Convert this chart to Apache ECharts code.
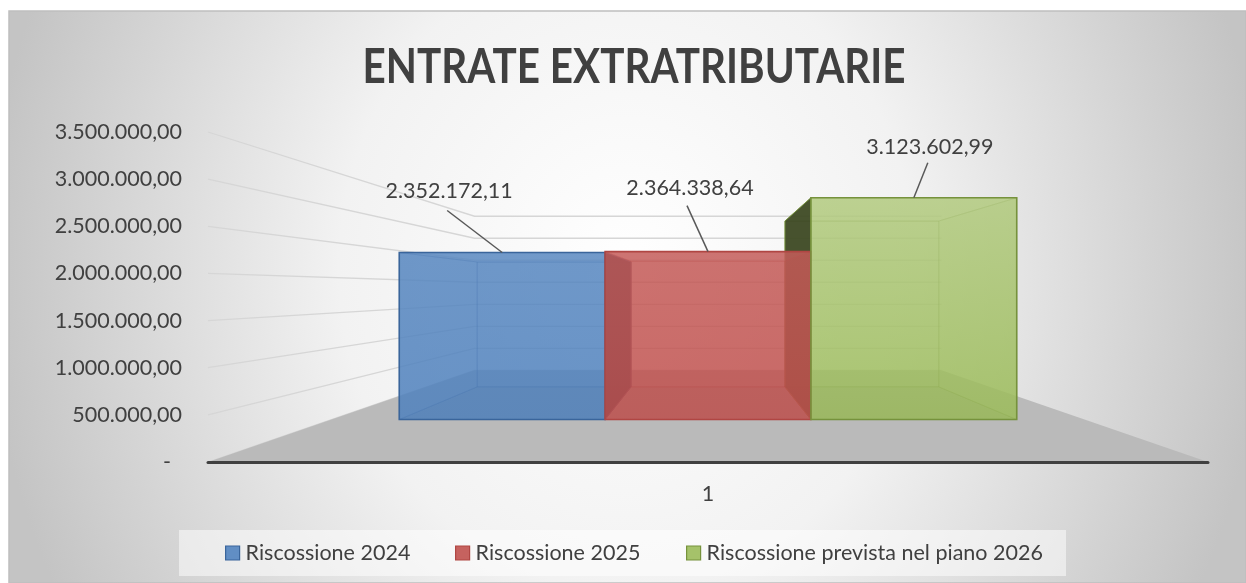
<!DOCTYPE html>
<html><head><meta charset="utf-8">
<script src="https://cdn.jsdelivr.net/npm/echarts@6/dist/echarts.min.js"></script>
<style>html,body{margin:0;padding:0;background:#fff;}#c{width:1246px;height:583px;}</style>
</head><body><div id="c"></div>
<script>
// ---------- data ----------
const categories = ['1'];
const seriesNames = ['Riscossione 2024', 'Riscossione 2025', 'Riscossione prevista nel piano 2026'];
const riscossione2024 = [2352172.11];
const riscossione2025 = [2364338.64];
const riscossione2026 = [3123602.99];
const yTicks = [0, 500000, 1000000, 1500000, 2000000, 2500000, 3000000, 3500000];
const titleText = 'ENTRATE EXTRATRIBUTARIE';

// ---------- styling / view ----------
const seriesValues = [riscossione2024, riscossione2025, riscossione2026];
const baseColors = ['#4f81bd', '#c0504d', '#9bbb59'];
const borderColors = ['#3a659b', '#b04643', '#76923c'];
const frontTint = [0.06, 0.08, 0.3];
// label centre dx,dy and leader end dx,dy relative to front-top-centre of bar
const labelOffsets = [[-53, -61, -55, -42], [-18, -64, -21, -46], [16, -51, 14, -35]];
const legendLefts = [225, 455, 686];
const VIEW = { eyeValue: 1824000, sWall: 0.467, sFront: 0.753, sBack: 0.563, groupFrac: 0.82 };
const FONT = 'Lato';
const TXT = '#404040';

function hexToRgb(h) { const n = parseInt(h.slice(1), 16); return [n >> 16 & 255, n >> 8 & 255, n & 255]; }
function rgba(h, a, f) {
  let [r, g, b] = hexToRgb(h);
  f = f || 0;
  if (f > 0) { r += (255 - r) * f; g += (255 - g) * f; b += (255 - b) * f; }
  else if (f < 0) { r *= 1 + f; g *= 1 + f; b *= 1 + f; }
  return 'rgba(' + Math.round(r) + ',' + Math.round(g) + ',' + Math.round(b) + ',' + a + ')';
}
function fmtIt(v) {
  const p = v.toFixed(2).split('.');
  return p[0].replace(/\B(?=(\d{3})+(?!\d))/g, '.') + ',' + p[1];
}
function viewPoint(api) {
  const vx = api.coord([0, 0])[0];
  const vy = api.coord([0, VIEW.eyeValue])[1];
  return { vx, vy, P: (x, y, s) => [vx + (x - vx) * s, vy + (y - vy) * s] };
}

function renderGrid(params, api) {
  const cs = params.coordSys;
  const y = api.coord([0, api.value(1)])[1];
  const { P } = viewPoint(api);
  const xl = cs.x, xr = cs.x + cs.width;
  return {
    type: 'polyline',
    shape: { points: [[xl, y], P(xl, y, VIEW.sWall), P(xr, y, VIEW.sWall)] },
    style: { stroke: '#d6d6d6', lineWidth: 1.3, fill: null }
  };
}
function renderFloor(params, api) {
  const cs = params.coordSys;
  const y = api.coord([0, api.value(1)])[1];
  const { P } = viewPoint(api);
  const xl = cs.x, xr = cs.x + cs.width;
  return {
    type: 'polygon',
    shape: { points: [[xl, y], [xr, y], P(xr, y, VIEW.sWall), P(xl, y, VIEW.sWall)] },
    style: { fill: '#bababa' }
  };
}
function makeBarRender(si) {
  return function (params, api) {
    const cat = api.value(0), v = api.value(1);
    const base = api.coord([cat, 0]);
    const band = api.size([1, 0])[0];
    const { vx, vy, P } = viewPoint(api);
    const barW = band * VIEW.groupFrac / 3;
    const x0 = base[0] - band * VIEW.groupFrac / 2 + si * barW, x1 = x0 + barW;
    const yB = base[1], yT = api.coord([cat, v])[1];
    const sF = VIEW.sFront, sB = VIEW.sBack;
    const c = baseColors[si], bc = borderColors[si];
    const A = 0.62;
    // painter's order: boxes farther from the eye (horizontally) first
    const rank = Math.round(Math.abs((x0 + x1) / 2 - vx) / barW);
    const zb = (5 - rank) * 3;
    const inner = (f) => ({ fill: rgba(c, A, f), stroke: rgba(bc, 0.3), lineWidth: 1 });
    const outer = { fill: rgba(c, 0.85, -0.68), stroke: rgba(bc, 0.9), lineWidth: 1 };
    const ch = [];
    const face = (pts, style, z2) => ch.push({ type: 'polygon', z2, shape: { points: pts }, style });
    // back
    face([P(x0, yT, sB), P(x1, yT, sB), P(x1, yB, sB), P(x0, yB, sB)], inner(0), zb);
    // bottom
    face([P(x0, yB, sF), P(x1, yB, sF), P(x1, yB, sB), P(x0, yB, sB)], inner(-0.08), zb + 1);
    // top
    const topOut = yT > vy;
    face([P(x0, yT, sF), P(x1, yT, sF), P(x1, yT, sB), P(x0, yT, sB)], topOut ? outer : inner(0.06), topOut ? zb + 2 : zb + 1);
    // left
    const leftOut = x0 > vx;
    face([P(x0, yT, sF), P(x0, yT, sB), P(x0, yB, sB), P(x0, yB, sF)], leftOut ? outer : inner(0), leftOut ? zb + 2 : zb + 1);
    // right
    const rightOut = x1 < vx;
    face([P(x1, yT, sF), P(x1, yT, sB), P(x1, yB, sB), P(x1, yB, sF)], rightOut ? outer : inner(0), rightOut ? zb + 2 : zb + 1);
    // front
    const f0 = P(x0, yT, sF), f1 = P(x1, yB, sF);
    face([f0, P(x1, yT, sF), f1, P(x0, yB, sF)], {
      fill: { type: 'linear', x: 0, y: 0, x2: 0, y2: 1, colorStops: [
        { offset: 0, color: rgba(c, A, frontTint[si]) }, { offset: 1, color: rgba(c, A, 0) }] },
      stroke: bc, lineWidth: 1.6
    }, 100);
    // label + leader
    const cx = (f0[0] + f1[0]) / 2, cy = f0[1];
    const o = labelOffsets[si];
    ch.push({ type: 'line', z2: 110, shape: { x1: cx, y1: cy, x2: cx + o[2], y2: cy + o[3] },
      style: { stroke: '#595959', lineWidth: 1.5 } });
    ch.push({ type: 'text', z2: 120, style: { text: fmtIt(v), x: cx + o[0], y: cy + o[1],
      align: 'center', verticalAlign: 'middle', fill: TXT, fontFamily: FONT, fontSize: 21.5 } });
    return { type: 'group', children: ch };
  };
}

// title scaling to mimic condensed Calibri
const mctx = document.createElement('canvas').getContext('2d');
mctx.font = 'bold 47px ' + FONT;
const titleScale = 543 / mctx.measureText(titleText).width;

const chart = echarts.init(document.getElementById('c'), null, { renderer: 'canvas' });
chart.setOption({
  animation: false,
  graphic: { elements: [
    { type: 'rect', x: 9, y: 11, scaleY: 572 / 512, z: -10, silent: true,
      shape: { x: 0, y: 0, width: 1237, height: 512 },
      style: { fill: { type: 'radial', x: 618, y: 230, r: 640, global: true, colorStops: [
        { offset: 0, color: '#ffffff' }, { offset: 0.45, color: '#f2f2f2' }, { offset: 1, color: '#c4c4c4' }] },
        stroke: '#bfbfbf', lineWidth: 1.5, strokeNoScale: true } },
    { type: 'rect', x: 179, y: 530, z: -9, silent: true, shape: { width: 887, height: 46 },
      style: { fill: 'rgba(255,255,255,0.5)' } },
    { type: 'text', x: 634, y: 68, z: 100, scaleX: titleScale, silent: true,
      style: { text: titleText, fontFamily: FONT, fontWeight: 'bold', fontSize: 47, fill: TXT,
        align: 'center', verticalAlign: 'middle' } }
  ] },
  grid: { left: 208, right: 38, top: 132, bottom: 121 },
  xAxis: {
    type: 'category', data: categories, z: 5,
    axisTick: { show: false }, splitLine: { show: false },
    axisLine: { lineStyle: { color: '#404040', width: 3, cap: 'round' } },
    axisLabel: { margin: 21, fontFamily: FONT, fontSize: 21.5, color: TXT }
  },
  yAxis: {
    type: 'value', min: yTicks[0], max: yTicks[yTicks.length - 1], interval: yTicks[1] - yTicks[0],
    axisLine: { show: false }, axisTick: { show: false }, splitLine: { show: false },
    axisLabel: { margin: 26, fontFamily: FONT, fontSize: 21.5, color: TXT,
      formatter: (v) => v === 0 ? '{z|-}' : fmtIt(v),
      rich: { z: { fontFamily: FONT, fontSize: 21.5, color: TXT, padding: [0, 11, 0, 0] } } }
  },
  legend: seriesNames.map((n, i) => ({
    data: [{ name: n, icon: 'rect', itemStyle: { color: rgba(baseColors[i], 1, 0.1), borderColor: borderColors[i], borderWidth: 1.2 } }],
    left: legendLefts[i], top: 542, itemWidth: 14, itemHeight: 14, itemGap: 0, padding: 0,
    selectedMode: false,
    textStyle: { fontFamily: FONT, fontSize: 21.5, color: TXT, padding: [0, 0, 0, 1] }
  })),
  series: [
    { type: 'custom', name: '_grid', coordinateSystem: 'cartesian2d', z: 1, silent: true,
      data: yTicks.map(t => [0, t]), encode: { x: 0, y: 1 }, renderItem: renderGrid },
    { type: 'custom', name: '_floor', coordinateSystem: 'cartesian2d', z: 1.5, silent: true,
      data: [[0, 0]], encode: { x: 0, y: 1 }, renderItem: renderFloor }
  ].concat(seriesNames.map((n, i) => ({
    type: 'custom', name: n, coordinateSystem: 'cartesian2d', z: 3, silent: true,
    itemStyle: { color: baseColors[i] },
    data: seriesValues[i].map((v, k) => [k, v]), encode: { x: 0, y: 1 },
    renderItem: makeBarRender(i)
  })))
});
</script></body></html>
